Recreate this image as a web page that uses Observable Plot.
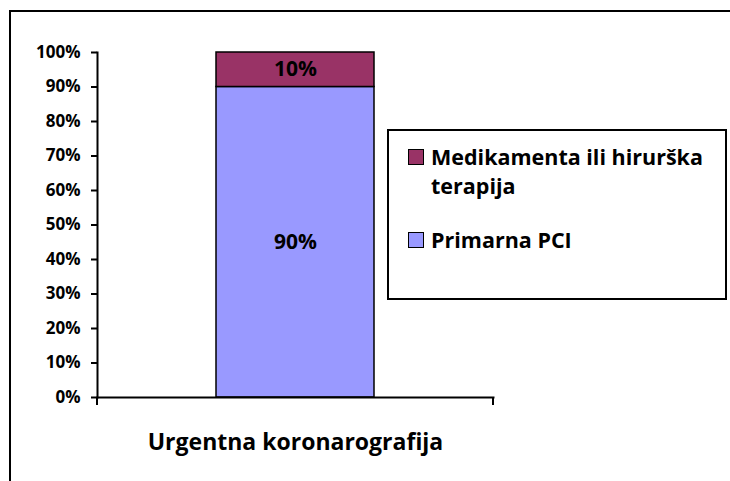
<!DOCTYPE html>
<html>
<head>
<meta charset="utf-8">
<script src="https://cdn.jsdelivr.net/npm/d3@7"></script>
<script src="https://cdn.jsdelivr.net/npm/@observablehq/plot@0.6"></script>
<style>
  html, body { margin: 0; padding: 0; background: #fff; }
  #wrap { position: relative; width: 730px; height: 481px; overflow: hidden; font-family: "Open Sans", sans-serif; font-weight: bold; }
  #frame { position: absolute; left: 9px; top: 10px; width: 800px; height: 600px; border-left: 2px solid #000; border-top: 2px solid #000; box-sizing: border-box; }
  #chart { position: absolute; left: 0; top: 0; }
  #legend { position: absolute; left: 387px; top: 129px; width: 340px; height: 171px; border: 2px solid #000; box-sizing: border-box; background: #fff; }
  .item { display: flex; align-items: flex-start; font-size: 21.5px; line-height: 29px; color: #000; }
  .sw { width: 14px; height: 14px; border: 1.5px solid #000; margin-right: 7px; flex: none; }
</style>
</head>
<body>
<div id="wrap">
  <div id="frame"></div>
  <div id="chart"></div>
  <div id="legend"></div>
</div>
<script>
const categories = ["Urgentna koronarografija"];
const series = ["Primarna PCI", "Medikamenta ili hirurška terapija"];
const values = [0.9, 0.1];
const colors = ["#9999FF", "#993366"];
const barLabels = ["90%", "10%"];
const yTicks = [0, 0.1, 0.2, 0.3, 0.4, 0.5, 0.6, 0.7, 0.8, 0.9, 1.0];

const data = series.map((s, i) => ({category: categories[0], series: s, value: values[i], label: barLabels[i]}));

const boundaryTicks = (index, scales, vals, dims) => {
  const g = d3.create("svg:g").attr("stroke", "#000").attr("stroke-width", 2);
  const y0 = dims.height - dims.marginBottom;
  [dims.marginLeft, dims.width - dims.marginRight].forEach(x => {
    g.append("line").attr("x1", x).attr("x2", x).attr("y1", y0).attr("y2", y0 + 8);
  });
  return g.node();
};

const chart = Plot.plot({
  width: 730,
  height: 481,
  marginLeft: 97,
  marginRight: 237,
  marginTop: 52,
  marginBottom: 84,
  style: {fontFamily: "'Open Sans', sans-serif", fontWeight: "bold", background: "transparent", overflow: "visible"},
  x: {type: "band", domain: categories, paddingInner: 0, paddingOuter: 0.753},
  y: {domain: [0, 1]},
  color: {domain: series, range: colors},
  marks: [
    Plot.barY(data, Plot.stackY({x: "category", y: "value", fill: "series", stroke: "#000", strokeWidth: 1.5, inset: 0})),
    Plot.text(data, Plot.stackY({x: "category", y: "value", text: "label", fontSize: 21, fontWeight: "bold", fill: "#000"})),
    Plot.frame({anchor: "left", stroke: "#000", strokeWidth: 2}),
    Plot.frame({anchor: "bottom", stroke: "#000", strokeWidth: 2}),
    boundaryTicks,
    Plot.axisY({ticks: yTicks, tickFormat: d3.format(".0%"), tickSize: 6, tickPadding: 11, stroke: "#000", strokeWidth: 2, fontSize: 17, label: null, color: "#000"}),
    Plot.axisX({tickSize: 0, tickPadding: 36, fontSize: 23, label: null, color: "#000"})
  ]
});
document.getElementById("chart").appendChild(chart);

const legend = document.getElementById("legend");
const order = series.map((s, i) => i).reverse();
order.forEach((i, k) => {
  const row = document.createElement("div");
  row.className = "item";
  row.style.marginLeft = "19px";
  row.style.marginTop = k === 0 ? "11px" : "25px";
  const sw = document.createElement("div");
  sw.className = "sw";
  sw.style.background = colors[i];
  sw.style.marginTop = "7px";
  const t = document.createElement("div");
  t.textContent = series[i];
  t.style.width = "300px";
  row.appendChild(sw);
  row.appendChild(t);
  legend.appendChild(row);
});
</script>
</body>
</html>
